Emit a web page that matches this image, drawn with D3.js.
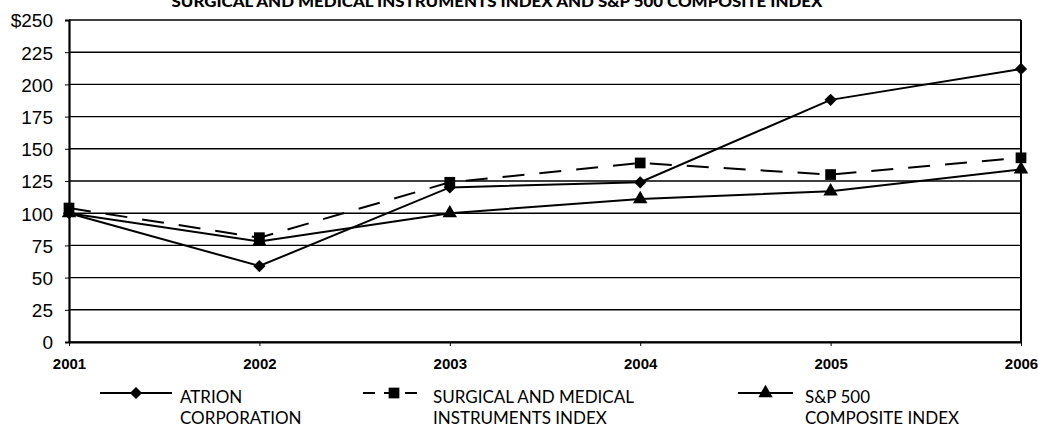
<!DOCTYPE html>
<meta charset="utf-8">
<head>
    <title>Cumulative total return</title>
    <script src="https://d3js.org/d3.v7.min.js"></script>
    <style>
        body { margin: 0; background: #ffffff; }
        svg text { fill: #000; }
    </style>
</head>
<body>
<div id="my_dataviz"></div>
<script>

// data
var years = [2001, 2002, 2003, 2004, 2005, 2006];
var yTicks = [0, 25, 50, 75, 100, 125, 150, 175, 200, 225, 250];
var atrion = [100, 59, 120, 124, 188, 212];
var surgical = [104, 81, 124, 139, 130, 143];
var sp500 = [100, 78, 100, 111, 117, 134];
var legendLabels = [["ATRION", "CORPORATION"], ["SURGICAL AND MEDICAL", "INSTRUMENTS INDEX"], ["S&P 500", "COMPOSITE INDEX"]];

var W = 1039, H = 427;
var margin = {top: 20, right: 18, bottom: 85, left: 69},
    width = 1021 - margin.left,
    height = 342 - margin.top;

var svg = d3.select("#my_dataviz")
    .append("svg")
    .attr("width", W)
    .attr("height", H);

// title, cut off at the top of the picture as in the scan
svg.append("text")
    .attr("x", 497).attr("y", 7)
    .attr("text-anchor", "middle")
    .attr("textLength", 651)
    .attr("lengthAdjust", "spacingAndGlyphs")
    .style("font-family", "Lato, 'Open Sans', sans-serif")
    .style("font-weight", "900")
    .style("font-size", "15px")
    .text("SURGICAL AND MEDICAL INSTRUMENTS INDEX AND S&P 500 COMPOSITE INDEX");

var g = svg.append("g")
    .attr("transform", "translate(" + margin.left + "," + margin.top + ")");

var x = d3.scaleLinear()
    .domain([2001, 2006])
    .range([0, width]);
var y = d3.scaleLinear()
    .domain([0, 250])
    .range([height, 0]);

// gridlines
g.append("g")
    .selectAll("line")
    .data(yTicks)
    .enter()
    .append("line")
    .attr("x1", 0).attr("x2", width)
    .attr("y1", function(d) { return y(d); })
    .attr("y2", function(d) { return y(d); })
    .attr("stroke", "#000")
    .attr("stroke-width", 1.4);

// right border
g.append("line")
    .attr("x1", width).attr("x2", width)
    .attr("y1", 0).attr("y2", height)
    .attr("stroke", "#000").attr("stroke-width", 2);

// Y axis
var yAxis = g.append("g")
    .call(d3.axisLeft(y).tickValues(yTicks).tickSize(4).tickPadding(12)
        .tickFormat(function(d) { return d === 250 ? "$250" : d; }));
yAxis.select(".domain").attr("stroke-width", 2.2);
yAxis.selectAll("text")
    .style("font-family", "'Liberation Sans', Arial, sans-serif")
    .style("font-size", "19px")
    .attr("dy", "0.36em");

// X axis
var xAxis = g.append("g")
    .attr("transform", "translate(0," + height + ")")
    .call(d3.axisBottom(x).tickValues(years).tickFormat(d3.format("d"))
        .tickSizeInner(4).tickSizeOuter(0).tickPadding(12));
xAxis.select(".domain").attr("stroke-width", 2.2);
xAxis.selectAll("text")
    .style("font-family", "'Liberation Sans', Arial, sans-serif")
    .style("font-weight", "bold")
    .style("font-size", "15px");

// series (diamond = square turned 45 degrees)
var series = [
    {values: atrion, dash: null, symbol: d3.symbolSquare, size: 75, rot: 45},
    {values: surgical, dash: "22,15", symbol: d3.symbolSquare, size: 115, rot: 0},
    {values: sp500, dash: null, symbol: d3.symbolTriangle, size: 90, rot: 0}
];

var line = d3.line()
    .x(function(d, i) { return x(years[i]); })
    .y(function(d) { return y(d); });

series.forEach(function(s) {
    g.append("path")
        .datum(s.values)
        .attr("fill", "none")
        .attr("stroke", "#000")
        .attr("stroke-width", 2)
        .attr("stroke-dasharray", s.dash)
        .attr("d", line);
    g.append("g")
        .selectAll("path")
        .data(s.values)
        .enter()
        .append("path")
        .attr("transform", function(d, i) {
            return "translate(" + x(years[i]) + "," + y(d) + ") rotate(" + s.rot + ")";
        })
        .attr("d", d3.symbol().type(s.symbol).size(s.size))
        .attr("fill", "#000");
});

// legend
var legendX = [[100, 172, 180], [363, 425, 433], [738, 793, 805]];
var legendY = 393;
series.forEach(function(s, i) {
    var lx = legendX[i];
    svg.append("line")
        .attr("x1", lx[0]).attr("x2", lx[1])
        .attr("y1", legendY).attr("y2", legendY)
        .attr("stroke", "#000").attr("stroke-width", 2)
        .attr("stroke-dasharray", s.dash ? "12,9" : null);
    svg.append("path")
        .attr("transform", "translate(" + ((lx[0] + lx[1]) / 2) + "," + legendY + ") rotate(" + s.rot + ")")
        .attr("d", d3.symbol().type(s.symbol).size(s.size))
        .attr("fill", "#000");
    legendLabels[i].forEach(function(t, k) {
        svg.append("text")
            .attr("x", lx[2]).attr("y", 403 + k * 21)
            .style("font-family", "Lato, 'Open Sans', sans-serif")
            .style("font-size", "17px")
            .text(t);
    });
});
</script>
</body>
</html>
